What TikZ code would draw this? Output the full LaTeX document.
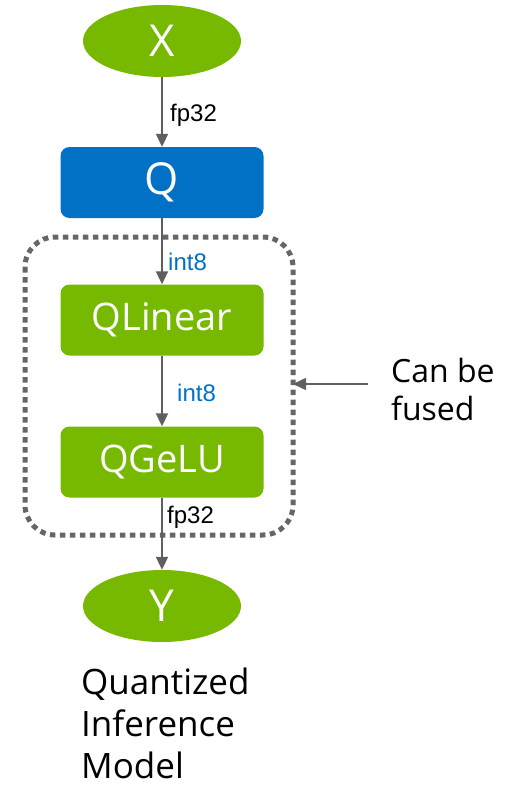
\documentclass[tikz,border=0pt]{standalone}
\usepackage{fontspec}
\setmainfont{Open Sans}
\newfontfamily\labelfont{Liberation Sans}
\usetikzlibrary{shapes.geometric,arrows.meta}
\definecolor{nvgreen}{HTML}{76B900}
\definecolor{qblue}{HTML}{0071C5}
\definecolor{edgegray}{HTML}{5F5F5F}
\definecolor{dotgray}{HTML}{666666}
\tikzset{
  ionode/.style={ellipse, fill=nvgreen, text=white, minimum width=158pt, minimum height=72pt, inner sep=0pt, font=\fontsize{44}{44}\selectfont},
  opbox/.style={rounded corners=9pt, fill=nvgreen, text=white, minimum width=203pt, minimum height=71pt, inner sep=0pt, font=\fontsize{38}{38}\selectfont},
  flow/.style={draw=edgegray, line width=2pt, -{Triangle[length=13pt,width=12pt]}},
  dtype/.style={font=\labelfont\fontsize{24}{24}\selectfont, anchor=west, inner sep=0pt},
}
\begin{document}
\begin{tikzpicture}[x=1pt,y=-1pt]
\useasboundingbox (0,0) rectangle (512,789);
% fused region
\draw[dotgray, line width=5pt, dash pattern=on 5.5pt off 4.5pt, rounded corners=30pt] (25,237) rectangle (293,535);
% nodes
\node[ionode] (X) at (162,41) {X};
\node[opbox, fill=qblue, font=\fontsize{44}{44}\selectfont] (Q) at (162,182.5) {Q};
\node[opbox] (QL) at (162,320) {QLinear};
\node[opbox] (QG) at (162,462) {QGeLU};
\node[ionode] (Y) at (162,606) {Y};
% connectors
\draw[flow] (X) -- (Q);
\draw[flow] (Q) -- (QL);
\draw[flow] (QL) -- (QG);
\draw[flow] (QG) -- (Y);
% data type labels
\node[dtype] (t1) at (170,115) {fp32};
\node[dtype, text=qblue] (t2) at (168,262) {int8};
\node[dtype, text=qblue] (t3) at (177,393) {int8};
\node[dtype] (t4) at (167,517) {fp32};
% annotation
\node[anchor=north west, align=left, inner sep=0pt, font=\fontsize{32}{38}\selectfont] (note) at (391,358) {Can be\\fused};
\coordinate (fuseR) at (293,384);
\draw[flow, line width=1.6pt] (note.west |- fuseR) ++(-23,0) coordinate (noteL) -- (fuseR);
% caption
\node[anchor=north west, align=left, inner sep=0pt, font=\fontsize{35}{42}\selectfont] (cap) at (81,668) {Quantized\\Inference\\Model};
\end{tikzpicture}
\end{document}
